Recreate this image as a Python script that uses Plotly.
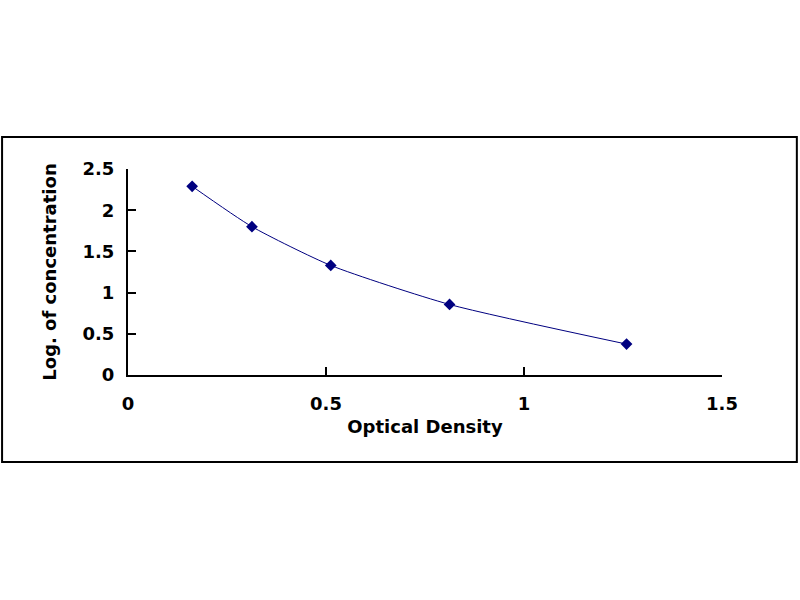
import plotly.graph_objects as go

# standard curve: optical density vs log of concentration
od = [0.162, 0.313, 0.512, 0.812, 1.259]
log_conc = [2.29, 1.80, 1.33, 0.856, 0.375]

x_ticks = [0, 0.5, 1, 1.5]
y_ticks = [0, 0.5, 1, 1.5, 2, 2.5]

navy = "#000080"
font_bold = "DejaVu Sans, Arial, sans-serif"
txt = dict(family=font_bold, size=18, color="black", weight="bold")

fig = go.Figure()
fig.add_trace(go.Scatter(
    x=od, y=log_conc, mode="lines+markers",
    line=dict(color=navy, width=1, shape="spline", smoothing=0.6),
    marker=dict(symbol="diamond", size=9, color=navy),
    showlegend=False,
))

axis_common = dict(
    showgrid=False, zeroline=False, showline=True,
    linecolor="black", linewidth=2,
    ticks="inside", ticklen=8, tickwidth=2, tickcolor="black",
    tickfont=txt,
)

fig.update_xaxes(
    range=[0, 1.5], tickvals=x_ticks, ticktext=[str(v) for v in x_ticks],
    ticklabelstandoff=11,
    title=dict(text="Optical Density", standoff=8, font=txt),
    **axis_common,
)
fig.update_yaxes(
    range=[0, 2.5], tickvals=y_ticks, ticktext=[str(v) for v in y_ticks],
    ticklabelstandoff=8,
    title=dict(text="Log. of concentration", standoff=21, font=txt),
    **axis_common,
)

# outer frame around the chart
fig.add_shape(type="rect", xref="paper", yref="paper",
              x0=-0.212, x1=1.126, y0=-0.422, y1=1.155,
              line=dict(color="black", width=2), layer="below")

fig.update_layout(
    width=800, height=600,
    margin=dict(l=128, r=78, t=169, b=225),
    paper_bgcolor="white", plot_bgcolor="white",
)

fig.write_html("out.html", config={"displayModeBar": False},
               post_script="document.body.style.margin='0';")
